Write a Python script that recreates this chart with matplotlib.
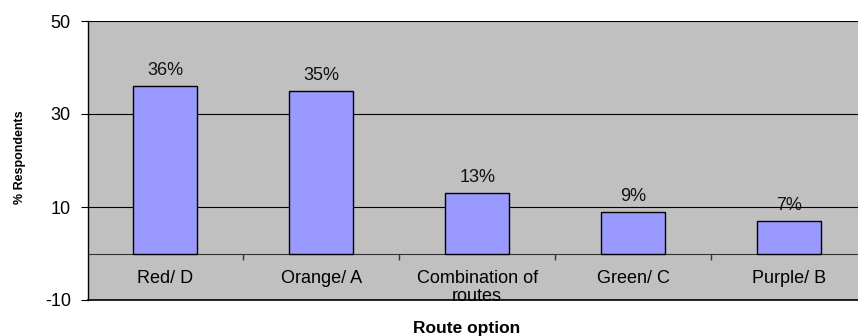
import numpy as np
import matplotlib
matplotlib.use('Agg')
import matplotlib.pyplot as plt

plt.rcParams['font.family'] = ['Liberation Sans', 'DejaVu Sans']
plt.rcParams['axes.unicode_minus'] = False

categories = ['Red/ D', 'Orange/ A', 'Combination of\nroutes', 'Green/ C', 'Purple/ B']
values = [36, 35, 13, 9, 7]
value_labels = ['36%', '35%', '13%', '9%', '7%']
y_ticks = [-10, 10, 30, 50]

W, H = 858, 336
fig = plt.figure(figsize=(W / 100, H / 100), dpi=100)
# plot area runs slightly past the right edge of the picture, like the original
ax = fig.add_axes([87.5 / W, (H - 300) / H, (867 - 87.5) / W, (300 - 21) / H])
ax.set_facecolor('#C0C0C0')

x = np.arange(len(categories))
bars = ax.bar(x, values, width=0.41, color='#9999FF', edgecolor='black', linewidth=1, zorder=3)
ax.bar_label(bars, labels=value_labels, padding=5, fontsize=13, color='#111111')

ax.set_xlim(-0.5, len(categories) - 0.5)
ax.set_ylim(-10, 50)
ax.set_yticks(y_ticks)
ax.yaxis.grid(True, color='black', linewidth=0.8, zorder=1)
ax.set_axisbelow(True)

# category axis sits at zero, plot frame bottom at -10
ax.spines['bottom'].set_position(('data', 0))
ax.spines['bottom'].set_color('#333333')
ax.spines['bottom'].set_zorder(2)
ax.axhline(-10, color='black', linewidth=1.2, clip_on=False)
ax.spines['top'].set_visible(False)
ax.spines['right'].set_visible(False)
ax.spines['left'].set_linewidth(1)

ax.set_xticks(x)
ax.set_xticklabels(categories, fontsize=13, linespacing=1.05)
ax.set_xticks(x[:-1] + 0.5, minor=True)
ax.tick_params(axis='x', which='major', length=0, pad=12)
ax.tick_params(axis='x', which='minor', length=4, width=1, color='#333333', direction='out')
ax.tick_params(axis='y', length=5, pad=7, labelsize=13)

fig.text(20 / W, 1 - 157.5 / H, '% Respondents', rotation=90, ha='center', va='center',
         fontsize=9, fontweight='bold')
fig.text(467 / W, 1 - 328 / H, 'Route option', ha='center', va='center',
         fontsize=12.5, fontweight='bold')

fig.savefig('out.png', dpi=100)
